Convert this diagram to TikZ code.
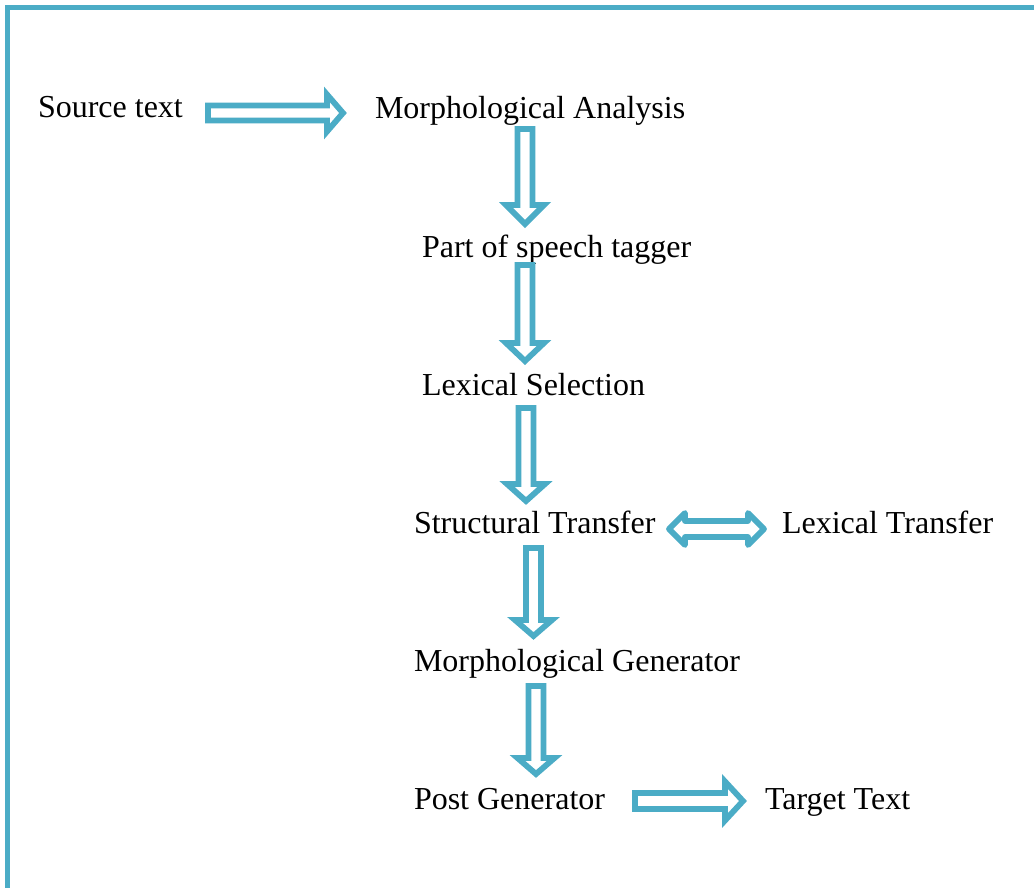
\documentclass[tikz,border=0pt]{standalone}
\usepackage{fontspec}
\setmainfont{Liberation Serif}
\definecolor{framecol}{HTML}{4BACC6}
\tikzset{
  lbl/.style={anchor=base west, inner sep=0pt, outer sep=0pt, font=\fontsize{32}{38}\selectfont},
  blockarrow/.style={draw=framecol, line width=5.8pt, fill=white, line join=miter},
  framelines/.style={draw=framecol, line width=5pt}
}
% right arrow: x0, xbase, xtip, yc, body half, head half
\newcommand{\rblock}[6]{%
  \draw[blockarrow] (#1,#4-#5) -- (#2,#4-#5) -- (#2,#4-#6) -- (#3,#4) -- (#2,#4+#6) -- (#2,#4+#5) -- (#1,#4+#5) -- cycle;}
% down arrow: y0, ybase, ytip, xc, body half, head half
\newcommand{\dblock}[6]{%
  \draw[blockarrow] (#4-#5,#1) -- (#4-#5,#2) -- (#4-#6,#2) -- (#4,#3) -- (#4+#6,#2) -- (#4+#5,#2) -- (#4+#5,#1) -- cycle;}
\begin{document}
\begin{tikzpicture}[x=1pt,y=-1pt]
\useasboundingbox (0,0) rectangle (1034,888);
\fill[white] (0,0) rectangle (1034,888);
% frame
\draw[framelines] (7.5,890) -- (7.5,8) -- (1036,8);
% labels
\node[lbl] (src) at (38,118) {Source text};
\node[lbl] (morph) at (375,119) {Morphological Analysis};
\node[lbl] (pos) at (422,257) {Part of speech tagger};
\node[lbl] (lexsel) at (422,395) {Lexical Selection};
\node[lbl] (struct) at (414,533) {Structural Transfer};
\node[lbl] (lextr) at (782,533) {Lexical Transfer};
\node[lbl] (mgen) at (414,671) {Morphological Generator};
\node[lbl] (pgen) at (414,809) {Post Generator};
\node[lbl] (tgt) at (765,809) {Target Text};
% arrows
\rblock{208}{327}{343}{113}{7.5}{18.5}
\dblock{129}{205}{224}{525}{7.5}{19}
\dblock{265}{343}{361}{525}{7.5}{19}
\dblock{408}{484}{501}{526}{7.5}{19}
\dblock{548}{620}{636}{533.5}{7.5}{18.5}
\dblock{686}{758}{774}{536}{7.5}{18.5}
\draw[blockarrow, line join=round] (669,529) -- (685,529-16) -- (685,529-8) -- (748,529-8) -- (748,529-16) -- (764,529) -- (748,529+16) -- (748,529+8) -- (685,529+8) -- (685,529+16) -- cycle;
\rblock{635}{725}{743}{801}{8}{19.5}
\end{tikzpicture}
\end{document}
